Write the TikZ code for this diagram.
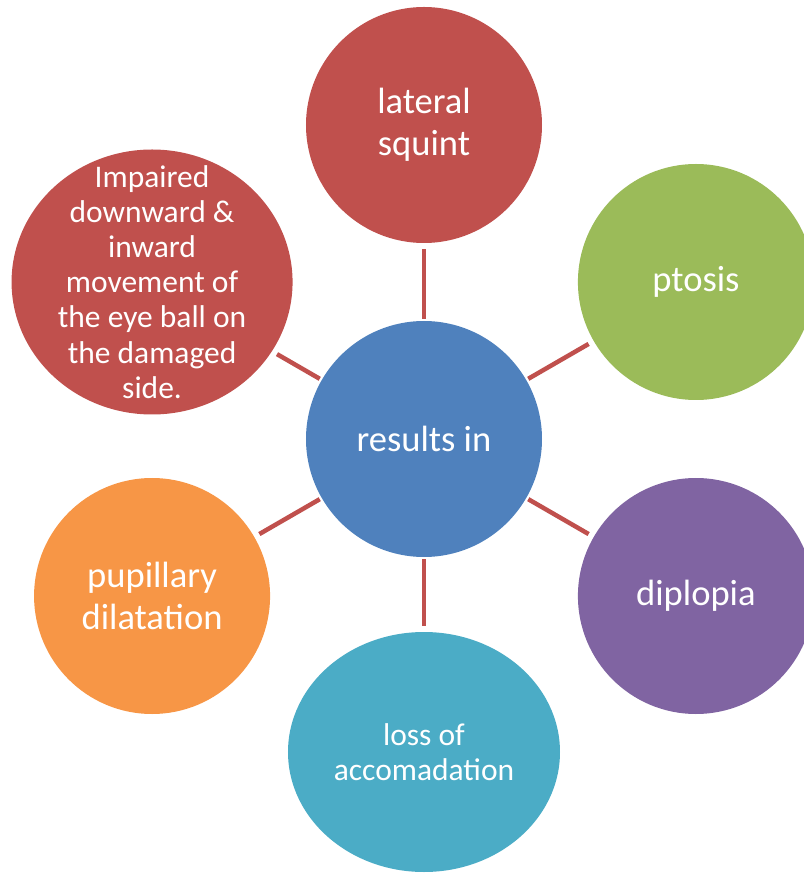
\documentclass[tikz,border=0pt]{standalone}
\usepackage{fontspec}
\setmainfont{Carlito}
\usetikzlibrary{shapes.geometric}

\definecolor{redbub}{HTML}{C0504D}
\definecolor{greenbub}{HTML}{9BBB59}
\definecolor{bluebub}{HTML}{4F81BD}
\definecolor{purplebub}{HTML}{8064A2}
\definecolor{tealbub}{HTML}{4BACC6}
\definecolor{orangebub}{HTML}{F79646}

\newcommand{\bigtext}{\fontsize{26}{30}\selectfont}
\newcommand{\smalltext}{\fontsize{22.4}{25}\selectfont}

\begin{document}
\begin{tikzpicture}[
    bubble/.style={circle, minimum size=5.9cm, inner sep=0pt,
                   text=white, align=center, font=\bigtext},
    oval/.style={ellipse, inner sep=0pt},
    ovaltext/.style={text=white, align=center, font=\smalltext},
    spoke/.style={draw=redbub, line width=3.2pt,
                  shorten <=1.5pt, shorten >=4pt}
  ]

  % page frame, outer bubbles on the right run past it
  \clip (-10.6,-10.85) rectangle (9.5,10.975);

  % hub
  \node[bubble, fill=bluebub] (hub) at (0,0) {results in};

  % outer bubbles, 7.85 from the hub, every 60 degrees
  \node[bubble, fill=redbub]    (squint)   at (90:7.85)  {lateral\\squint};
  \node[bubble, fill=greenbub]  (ptosis)   at (30:7.85)  {ptosis};
  \node[bubble, fill=purplebub] (diplopia) at (-30:7.85) {diplopia};
  \node[bubble, fill=orangebub] (pupil)    at (210:7.85) {pupillary\\dilatation};

  % the two ovals keep their size, text sits on top
  \node[oval, fill=tealbub, minimum width=6.8cm, minimum height=6.0cm]
      (accom) at (-90:7.825) {};
  \node[ovaltext] (accomtxt) at (accom.center) {loss of\\accomadation};
  \node[oval, fill=redbub, minimum width=7.025cm, minimum height=6.625cm]
      (impaired) at (150:7.85) {};
  \node[ovaltext] (impairedtxt) at (impaired.center)
      {Impaired\\downward \&\\inward\\movement of\\the eye ball on\\the damaged\\side.};

  % spokes
  \draw[spoke] (hub.90)  -- (squint.270);
  \draw[spoke] (hub.30)  -- (ptosis.210);
  \draw[spoke] (hub.-30) -- (diplopia.150);
  \draw[spoke] (hub.270) -- (accom.90);
  \draw[spoke] (hub.210) -- (pupil.30);
  \draw[spoke] (hub.150) -- (impaired.-30);

\end{tikzpicture}
\end{document}
